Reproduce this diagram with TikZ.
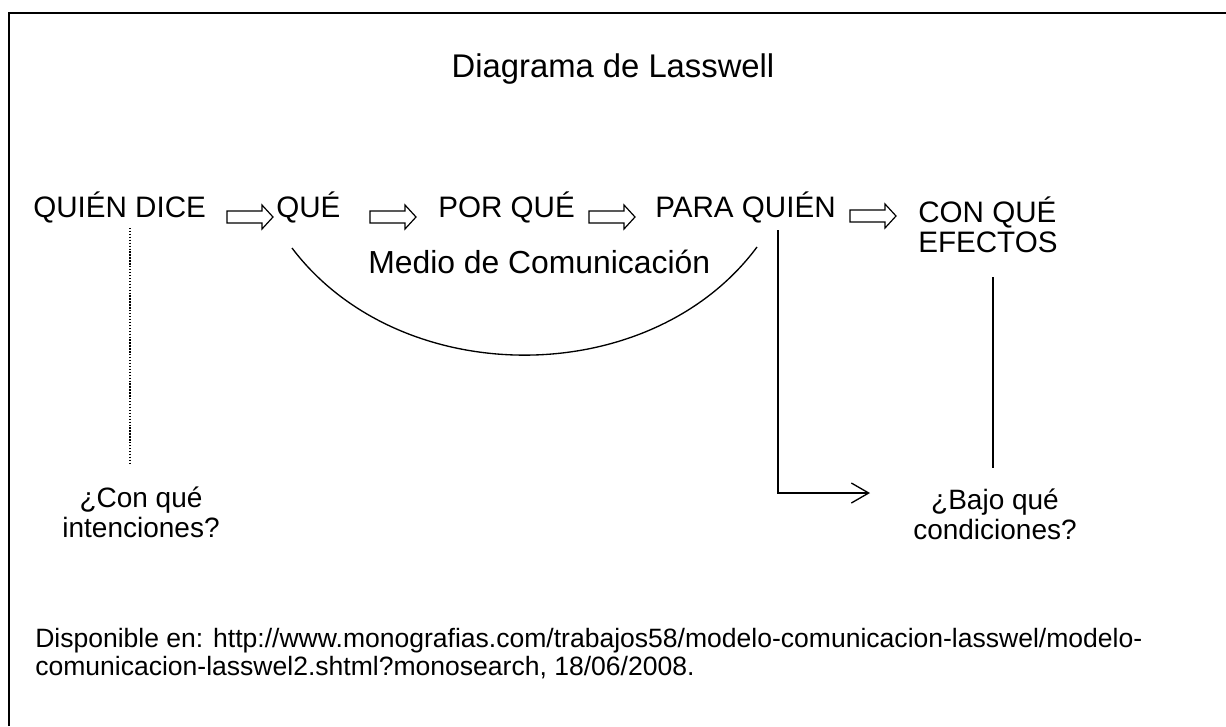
\documentclass[tikz,border=0pt]{standalone}
\usepackage{fontspec}
\setmainfont{Liberation Sans}
\usetikzlibrary{positioning, arrows.meta}
\tikzset{lbl/.style={font=\fontsize{22.2}{22.5}\selectfont, inner sep=0pt, align=center}}
\tikzset{ask/.style={font=\fontsize{21}{22.5}\selectfont, inner sep=0pt, align=center}}
\tikzset{ttl/.style={font=\fontsize{24.6}{26}\selectfont, inner sep=0pt}}
\tikzset{note/.style={font=\fontsize{19.9}{21}\selectfont, inner sep=0pt, align=left}}
\tikzset{blockarr/.pic={\draw[line width=0.9pt] (-23,-6) -- (12,-6) -- (12,-12)
	-- (23,0) -- (12,12) -- (12,6) -- (-23,6) -- cycle;}}
\tikzset{link/.style={draw, line width=1pt}}
\begin{document}
\begin{tikzpicture}[x=0.75pt, y=-0.75pt]
	\useasboundingbox (0,0) rectangle (1226,726);
	% frame
	\draw[line width=1.5pt] (8.5,726) -- (8.5,12.5) -- (1226,12.5);
	\node[ttl, anchor=base] (title) at (613,77) {Diagrama de Lasswell};
	% main row
	\node[lbl, anchor=base west] (quien) at (33,217) {QUIÉN DICE};
	\pic at (250,217) {blockarr};
	\node[lbl, anchor=base west] (que) at (276,217) {QUÉ};
	\pic at (393,217) {blockarr};
	\node[lbl, anchor=base west] (porque) at (438,217) {POR QUÉ};
	\pic at (612,217) {blockarr};
	\node[lbl, anchor=base west] (para) at (655,217) {PARA QUIÉN};
	\pic at (873,216) {blockarr};
	\node[lbl, anchor=base west, align=left] (efectos) at (918,252) {CON QUÉ\\EFECTOS};
	\node[lbl, anchor=base west, font=\fontsize{23.9}{24}\selectfont] (medio) at (368,273)
		{Medio de Comunicación};
	% questions
	\node[ask, anchor=base] (intenc) at (141,537) {¿Con qué\\intenciones?};
	\node[ask, anchor=base] (condic) at (995,539) {¿Bajo qué\\condiciones?};
	% links
	\coordinate (m1) at (292,248);
	\coordinate (m2) at (757,247);
	\draw[link] (m1) .. controls (400,391) and (650,391) .. (m2);
	\coordinate (d1) at (130,228);
	\coordinate (d2) at (130,465);
	\draw[line width=1pt, dash pattern=on 1pt off 1.2pt] (d1) -- (d2);
	\coordinate (p1) at (778,230);
	\coordinate (p2) at (870,493);
	\draw[link, -{Straight Barb[length=13pt, width=15pt, line width=1pt]}] (p1) |- (p2);
	\coordinate (e1) at (993,277);
	\coordinate (e2) at (993,468);
	\draw[link] (e1) -- (e2);
	% source
	\node[note, anchor=base west] (fuente) at (35,675)
		{Disponible en: http://www.monografias.com/trabajos58/modelo-comunicacion-lasswel/modelo-\\comunicacion-lasswel2.shtml?monosearch, 18/06/2008.};
\end{tikzpicture}
\end{document}
